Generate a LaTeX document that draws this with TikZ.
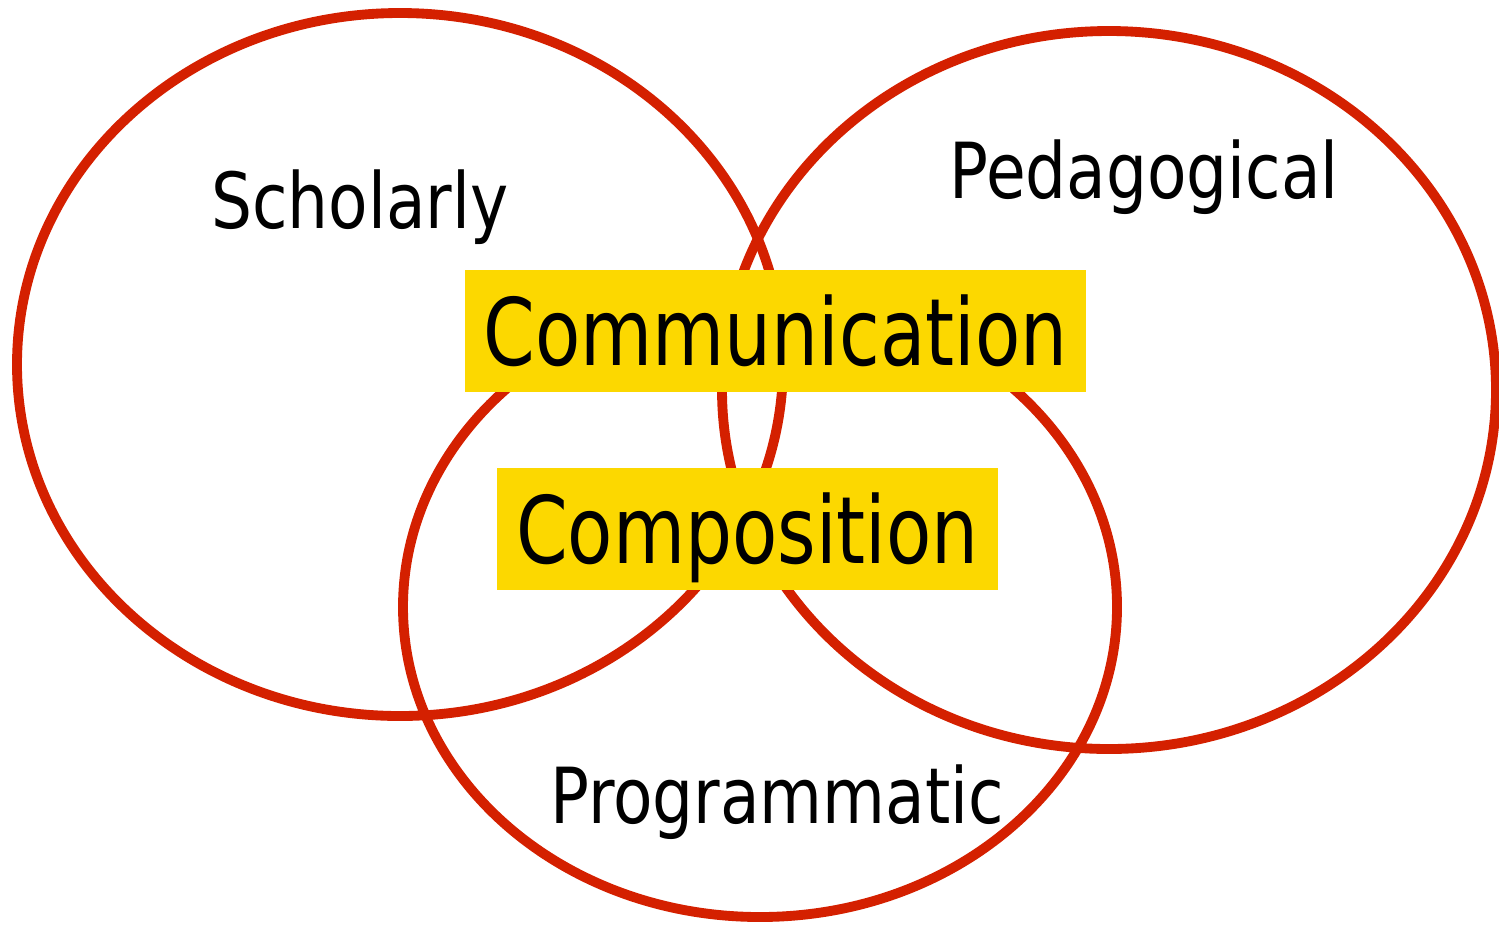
\documentclass[tikz,border=0pt]{standalone}
\usepackage{fontspec}
\setmainfont[FakeStretch=0.795]{DejaVu Sans}
\newfontfamily\areafont[FakeStretch=0.835]{DejaVu Sans}
\usepackage{xcolor}
\usepackage{tikz}

\definecolor{ringred}{RGB}{212,32,0}
\definecolor{boxgold}{RGB}{252,216,0}

\tikzset{
	ring/.style={draw=ringred, line width=2.8pt},
	area/.style={font=\areafont\fontsize{22}{26}\selectfont, text height=0.56cm, text depth=0pt, inner sep=0pt},
	core/.style={fill=boxgold, font=\fontsize{26.5}{31}\selectfont, text height=0.68cm, text depth=0pt, inner sep=0pt, minimum height=1.22cm}
}

\begin{document}
\begin{tikzpicture}
			\useasboundingbox (0, 0) rectangle (14.99, 9.31);

			\draw [ring] (4.00, 5.665) ellipse (3.83 and 3.515);
			\draw [ring] (11.09, 5.41) ellipse (3.87 and 3.59);
			\draw [ring] (7.60, 3.24) ellipse (3.57 and 3.10);

			\node (scholarly) at (3.60, 7.31) [area] {Scholarly};
			\node (pedagogical) at (11.44, 7.61) [area] {Pedagogical};
			\node (programmatic) at (7.77, 1.36) [area] {Programmatic};

			\node (communication) at (7.755, 6.00) [core, minimum width=6.21cm] {Communication};
			\node (composition) at (7.475, 4.02) [core, minimum width=5.01cm] {Composition};
		\end{tikzpicture}
\end{document}
